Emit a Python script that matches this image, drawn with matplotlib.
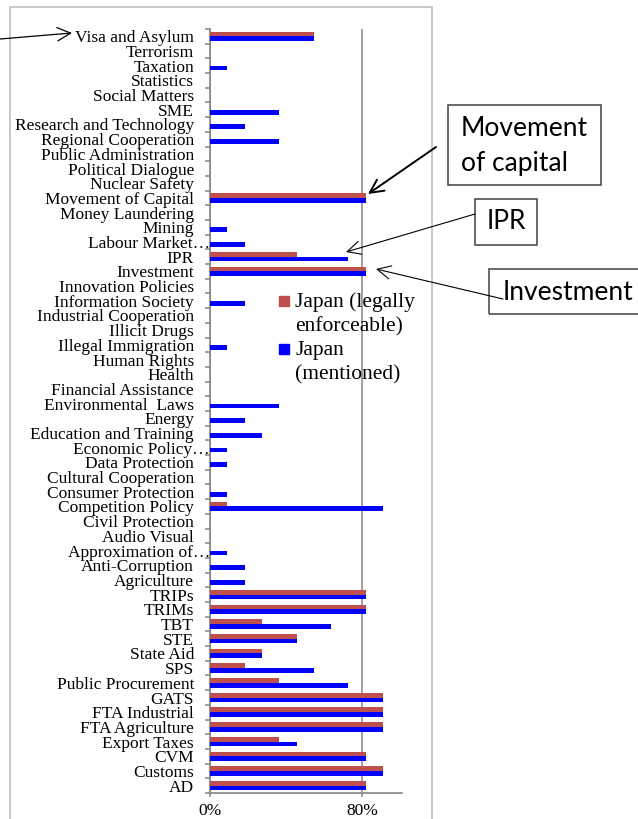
import matplotlib
matplotlib.use('Agg')
import matplotlib.pyplot as plt
import matplotlib.transforms as mtransforms
from matplotlib.patches import Rectangle, FancyArrowPatch
import numpy as np

# categories listed top -> bottom as they appear in the chart
categories = ['Visa and Asylum', 'Terrorism', 'Taxation', 'Statistics', 'Social Matters',
              'SME', 'Research and Technology', 'Regional Cooperation', 'Public Administration',
              'Political Dialogue', 'Nuclear Safety', 'Movement of Capital', 'Money Laundering',
              'Mining', 'Labour Market\u2026', 'IPR', 'Investment', 'Innovation Policies',
              'Information Society', 'Industrial Cooperation', 'Illicit Drugs',
              'Illegal Immigration', 'Human Rights', 'Health', 'Financial Assistance',
              'Environmental  Laws', 'Energy', 'Education and Training', 'Economic Policy\u2026',
              'Data Protection', 'Cultural Cooperation', 'Consumer Protection',
              'Competition Policy', 'Civil Protection', 'Audio Visual', 'Approximation of\u2026',
              'Anti-Corruption', 'Agriculture', 'TRIPs', 'TRIMs', 'TBT', 'STE', 'State Aid',
              'SPS', 'Public Procurement', 'GATS', 'FTA Industrial', 'FTA Agriculture',
              'Export Taxes', 'CVM', 'Customs', 'AD']

# share of agreements (%)
enforceable = [54.5, 0, 0, 0, 0,
               0, 0, 0, 0,
               0, 0, 81.8, 0,
               0, 0, 45.5, 81.8, 0,
               0, 0, 0,
               0, 0, 0, 0,
               0, 0, 0, 0,
               0, 0, 0,
               9.1, 0, 0, 0,
               0, 0, 81.8, 81.8, 27.3, 45.5, 27.3,
               18.2, 36.4, 90.9, 90.9, 90.9,
               36.4, 81.8, 90.9, 81.8]

mentioned = [54.5, 0, 9.1, 0, 0,
             36.4, 18.2, 36.4, 0,
             0, 0, 81.8, 0,
             9.1, 18.2, 72.7, 81.8, 0,
             18.2, 0, 0,
             9.1, 0, 0, 0,
             36.4, 18.2, 27.3, 9.1,
             9.1, 0, 9.1,
             90.9, 0, 0, 9.1,
             18.2, 18.2, 81.8, 81.8, 63.6, 45.5, 27.3,
             54.5, 72.7, 90.9, 90.9, 90.9,
             45.5, 81.8, 90.9, 81.8]

legend_labels = ['Japan (legally\nenforceable)', 'Japan\n(mentioned)']
callouts = ['Movement\nof capital', 'IPR', 'Investment']

RED = '#C0504D'
BLUE = '#0000FF'
GRAY = '#868686'
W, H = 638, 819

fig = plt.figure(figsize=(W / 100, H / 100), dpi=100)


def fx(x):
    return x / W


def fy(y):
    return 1 - y / H


def lines_at(x, ys, text, **kw):
    # one text per line, so the spacing matches the original
    for yy, line in zip(ys, text.split('\n')):
        fig.text(fx(x), fy(yy), line, va='center', **kw)


# outer chart border
fig.add_artist(Rectangle((fx(10), fy(830)), fx(432) - fx(10), fy(7) - fy(830),
                         transform=fig.transFigure, fill=False, ec='#BFBFBF', lw=1.2))

ax = fig.add_axes([fx(210), fy(793), fx(402) - fx(210), fy(29) - fy(793)])

n = len(categories)
y = np.arange(n)[::-1]
h = 0.32
ax.barh(y + h / 2, enforceable, height=h, color=RED, zorder=3)
ax.barh(y - h / 2, mentioned, height=h, color=BLUE, zorder=3)

ax.set_xlim(0, 100.8)
ax.set_ylim(-0.5, n - 0.5)
ax.set_xticks([0, 80])
ax.set_xticklabels(['0%', '80%'])
ax.set_yticks(y)
ax.set_yticklabels(categories)
ax.set_yticks(np.arange(-0.5, n, 1.0), minor=True)

ax.xaxis.grid(True, color=GRAY, lw=1.1, zorder=0)
for s in ['top', 'right']:
    ax.spines[s].set_visible(False)
for s in ['left', 'bottom']:
    ax.spines[s].set_color(GRAY)
    ax.spines[s].set_linewidth(1.2)

ax.tick_params(axis='y', which='major', length=0, pad=11.5)
ax.tick_params(axis='y', which='minor', length=3.6, width=1.1, color=GRAY, direction='out')
ax.tick_params(axis='x', length=3, width=1.1, color=GRAY, pad=4)

for lab in ax.get_yticklabels() + ax.get_xticklabels():
    lab.set_fontfamily('Liberation Serif')
    lab.set_fontsize(12.5)

# excel lets the ellipsis of truncated labels run up to the axis
shift = mtransforms.ScaledTranslation(0.16, 0, fig.dpi_scale_trans)
for lab in ax.get_yticklabels():
    if lab.get_text().endswith('\u2026'):
        lab.set_transform(lab.get_transform() + shift)

# legend (drawn like excel, marker next to first line)
serif = dict(family='Liberation Serif', fontsize=15.5)
for lbl, col, yy in zip(legend_labels, [RED, BLUE], [302, 350]):
    fig.add_artist(Rectangle((fx(279), fy(yy + 4)), fx(10), fy(0) - fy(10),
                             transform=fig.transFigure, color=col))
    lines_at(295, [yy, yy + 25], lbl, ha='left', **serif)

# call-out boxes
sans = dict(family='Lato', fontsize=19)
boxes = [(448, 105, 153, 80), (475, 199, 62, 46), (489, 269, 160, 45)]
for bx, by, bw, bh in boxes:
    fig.add_artist(Rectangle((fx(bx), fy(by + bh)), fx(bw), fy(0) - fy(bh),
                             transform=fig.transFigure, fill=False, ec='#404040', lw=1.1))
lines_at(461, [128, 163], callouts[0], ha='left', **sans)
lines_at(506, [222], callouts[1], ha='center', **sans)
lines_at(503, [292], callouts[2], ha='left', **sans)

# arrows
arrows = [((436, 147), (368, 194), 1.4),
          ((475, 214), (346, 252), 0.8),
          ((503, 299), (376, 269), 0.8),
          ((0, 39), (72, 33), 0.9)]
for (x0, y0), (x1, y1), lw in arrows:
    fig.add_artist(FancyArrowPatch((fx(x0), fy(y0)), (fx(x1), fy(y1)),
                                   transform=fig.transFigure,
                                   arrowstyle='->,head_length=6,head_width=3',
                                   mutation_scale=1.6, color='black', lw=lw,
                                   shrinkA=0, shrinkB=0))

plt.savefig('out.png', dpi=100)
